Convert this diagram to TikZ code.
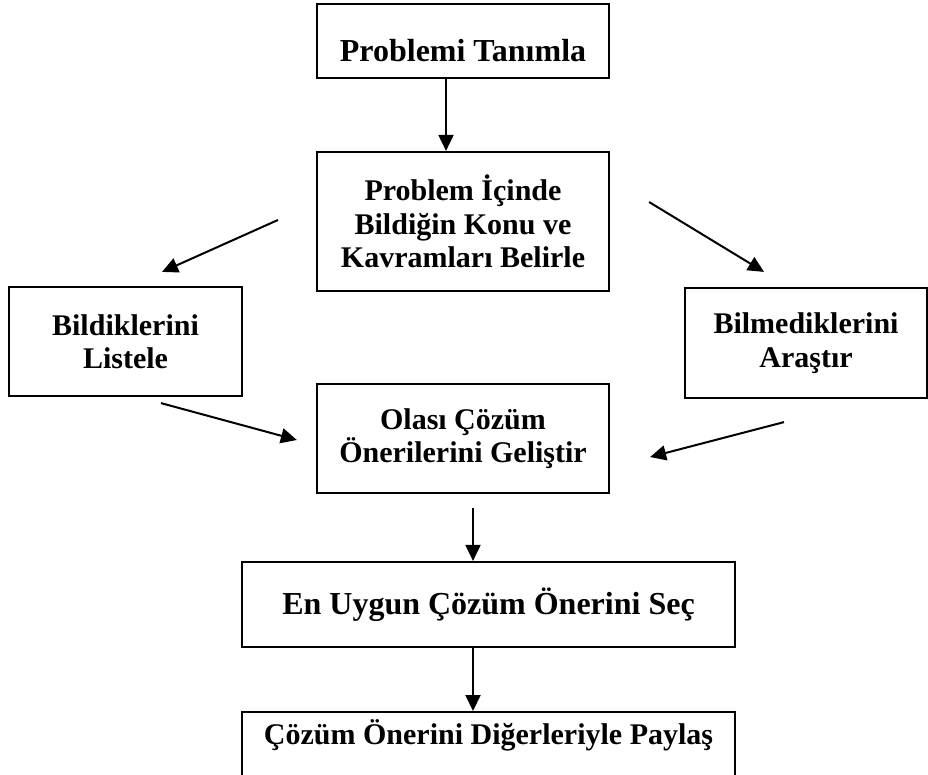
\documentclass[tikz,border=0pt]{standalone}
\usepackage{fontspec}
\setmainfont{Liberation Serif}
\usetikzlibrary{arrows.meta,calc}
\definecolor{fcink}{HTML}{000000}
\tikzset{
  stepbox/.style={draw=fcink,line width=2.2pt,fill=white,align=center,inner sep=0pt,
              font=\fontsize{30}{33.5}\selectfont\bfseries,text=fcink},
  bigbox/.style={stepbox,font=\fontsize{32}{36}\selectfont\bfseries},
  flowe/.style={-{Triangle[length=16pt,width=15pt]},line width=2pt,draw=fcink},
}

\begin{document}
\begin{tikzpicture}[x=1pt,y=-1pt]
  \useasboundingbox (0,0) rectangle (928,774);

  % ---- boxes (top to bottom) ----
  \node[bigbox,minimum width=292pt,minimum height=74pt,text height=40pt,text depth=0pt]
    (task) at (463,41) {Problemi Tanımla};
  \node[stepbox,minimum width=292pt,minimum height=139pt] (ident) at (463,221.5)
    {Problem İçinde\\Bildiğin Konu ve\\Kavramları Belirle};
  \node[stepbox,minimum width=233pt,minimum height=109pt] (list) at (125.5,341.5)
    {Bildiklerini\\Listele};
  \node[stepbox,minimum width=242pt,minimum height=110pt] (research) at (806,343)
    {Bilmediklerini\\Araştır};
  \node[stepbox,minimum width=292pt,minimum height=109pt] (solve) at (463,438.5)
    {Olası Çözüm\\Önerilerini Geliştir};
  \node[bigbox,minimum width=493pt,minimum height=85pt] (choose) at (488.5,604.5)
    {En Uygun Çözüm Önerini Seç};
  \node[stepbox,minimum width=493pt,minimum height=80pt,text height=21pt,text depth=37pt,
    anchor=north] (share) at (488.5,711) {Çözüm Önerini Diğerleriyle Paylaş};

  % ---- arrows ----
  \draw[flowe] ($(task.south)+(-17,0)$) -- ($(ident.north)+(-17,0)$);
  \draw[flowe] ($(ident.west)+(-38,-1.5)$) -- ($(list.north)+(36.5,-14)$);
  \draw[flowe] ($(ident.east)+(39,-19.5)$) -- ($(research.north)+(-42,-15)$);
  \draw[flowe] ($(list.south)+(35.5,6)$) -- ($(solve.west)+(-19,1.5)$);
  \draw[flowe] ($(research.south)+(-22,23)$) -- ($(solve.east)+(40,18.5)$);
  \draw[flowe] ($(solve.south)+(10,14)$) -- ($(choose.north)+(-15.5,0)$);
  \draw[flowe] ($(choose.south)+(-15.5,0)$) -- ($(share.north)+(-15.5,0)$);
\end{tikzpicture}
\end{document}
